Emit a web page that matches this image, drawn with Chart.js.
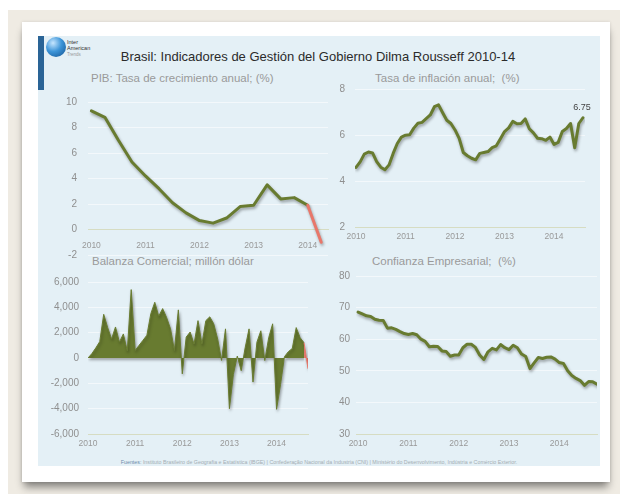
<!DOCTYPE html>
<html>
<head>
<meta charset="utf-8">
<script src="https://cdn.jsdelivr.net/npm/chart.js@4.4.1/dist/chart.umd.min.js"></script>
<style>
  body { margin: 0; width: 620px; height: 494px; background: #fff; position: relative; overflow: hidden;
         font-family: "Liberation Sans", Arial, sans-serif; }
  .abs { position: absolute; }
  #bg { left: 8px; top: 10px; width: 612px; height: 484px; background: #efebe3; }
  #card { left: 22px; top: 22px; width: 588px; height: 460px; background: #fff;
          box-shadow: 0 7px 8px -2px rgba(0,0,0,0.45), 0 0 3px rgba(0,0,0,0.12); }
  #panel { left: 38px; top: 36px; width: 562px; height: 430px; background: #e4f0f6; }
  #bar { left: 38px; top: 36px; width: 6px; height: 54px; background: #2a6496; }
  #globe { left: 46px; top: 37px; width: 20px; height: 20px; border-radius: 50%;
           background: radial-gradient(circle at 35% 30%, #c6e6ff 0%, #3d95d8 45%, #11508f 100%); }
  #logoText { left: 67px; top: 39px; font-size: 5.5px; line-height: 6px; color: #333; }
  #logoText span { color: #999; font-size: 4.5px; }
  #title { left: 0; top: 49px; width: 636px; text-align: center; font-size: 13px; color: #2b2b2b; }
  .sub { font-size: 11.5px; color: #9a9a9a; white-space: pre; }
  canvas { position: absolute; }
  #footer { left: 38px; top: 459px; width: 562px; text-align: center; font-size: 5.3px; color: #a3adb3; white-space: nowrap; }
  #footer b { font-weight: normal; color: #6d8aa8; }
</style>
</head>
<body>
<div id="bg" class="abs"></div>
<div id="card" class="abs"></div>
<div id="panel" class="abs"></div>
<div id="bar" class="abs"></div>
<div id="globe" class="abs"></div>
<div id="logoText" class="abs">Inter<br>American<br><span>Trends</span></div>
<div id="title" class="abs">Brasil: Indicadores de Gestión del Gobierno Dilma Rousseff 2010-14</div>

<div class="abs sub" style="left:91px; top:72px;">PIB: Tasa de crecimiento anual; (%)</div>
<div class="abs sub" style="left:375px; top:72px;">Tasa de inflación anual;  (%)</div>
<div class="abs sub" style="left:92px; top:255px;">Balanza Comercial; millón dólar</div>
<div class="abs sub" style="left:372px; top:255px;">Confianza Empresarial;  (%)</div>

<canvas id="pibChart" width="300" height="187" style="left:40px; top:85px;"></canvas>
<canvas id="inflChart" width="295" height="175" style="left:305px; top:73px;"></canvas>
<canvas id="balChart" width="285" height="186" style="left:40px; top:267px;"></canvas>
<canvas id="confChart" width="300" height="190" style="left:305px; top:262px;"></canvas>

<div id="footer" class="abs"><b>Fuentes:</b> Instituto Brasileiro de Geografia e Estatística (IBGE) | Confederação Nacional da Industria (CNI) | Ministério do Desenvolvimento, Indústria e Comércio Exterior.</div>

<script>
const yearLabels = ['2010', '2011', '2012', '2013', '2014'];

// PIB, quarterly, 2010T1 - 2014T2
const pib = [9.3, 8.8, 7.0, 5.3, 4.2, 3.2, 2.1, 1.3, 0.7, 0.5, 0.9, 1.8, 1.9, 3.5, 2.4, 2.5, 1.9, -1.0];

// inflation, monthly, Jan 2010 - Aug 2014
const inflacion = [
  4.59, 4.83, 5.17, 5.26, 5.22, 4.84, 4.60, 4.49, 4.70, 5.20, 5.63, 5.91,
  5.99, 6.01, 6.30, 6.51, 6.55, 6.71, 6.87, 7.23, 7.31, 6.97, 6.64, 6.50,
  6.22, 5.85, 5.24, 5.10, 4.99, 4.92, 5.20, 5.24, 5.28, 5.45, 5.53, 5.84,
  6.15, 6.31, 6.59, 6.49, 6.50, 6.70, 6.27, 6.09, 5.86, 5.84, 5.77, 5.91,
  5.59, 5.68, 6.15, 6.28, 6.50, 5.45, 6.50, 6.75
];

// trade balance, monthly, Jan 2010 - Sep 2014
const balanza = [
  0, 350, 800, 1300, 3450, 2400, 1500, 2450, 1250, 1900, 550, 5400,
  600, 1000, 1400, 1800, 3500, 4400, 3300, 3900, 3200, 2300, 600, 3800,
  -1250, 1650, 2050, 1100, 2950, 1100, 2950, 3250, 2700, 1500, -190, 2300,
  -4000, -1300, 150, -1000, 800, 2300, -1900, 1250, 2150, -200, 1600, 2700,
  -4050, -2100, 100, 500, 750, 2400, 1600, 1200, -850
];

// business confidence, monthly, Jan 2010 - Oct 2014
const confianza = [
  68.6, 68.0, 67.4, 67.2, 66.3, 66.0, 65.9, 63.5, 63.6, 63.1, 62.4, 61.8,
  61.5, 61.8, 61.4, 60.0, 59.3, 57.6, 57.8, 57.7, 56.3, 56.1, 54.6, 55.0,
  55.0, 57.3, 58.4, 58.4, 57.4, 55.0, 53.6, 56.0, 57.1, 56.6, 58.3, 57.3,
  56.7, 58.1, 57.3, 55.3, 54.5, 50.7, 52.5, 54.2, 53.9, 54.3, 54.4, 53.7,
  52.6, 52.3, 50.0, 48.5, 47.6, 46.9, 45.4, 46.6, 46.5, 45.8
];

const GREEN = '#687b30';
const RED = '#e8776a';
const GRID = '#f3f8fb';
const AXIS = '#d6dcc2';
const FONT = '"Liberation Sans", Arial, sans-serif';

const lineShadow = {
  id: 'lineShadow',
  beforeDatasetsDraw(chart) {
    const ctx = chart.ctx;
    ctx.save();
    ctx.shadowColor = 'rgba(0,0,0,0.35)';
    ctx.shadowBlur = 3;
    ctx.shadowOffsetX = 1;
    ctx.shadowOffsetY = 2;
  },
  afterDatasetsDraw(chart) {
    chart.ctx.restore();
  }
};

const lastLabel = {
  id: 'lastLabel',
  afterDatasetsDraw(chart) {
    const pts = chart.getDatasetMeta(0).data;
    const p = pts[pts.length - 1];
    const ctx = chart.ctx;
    ctx.save();
    ctx.font = '9px ' + FONT;
    ctx.fillStyle = '#444';
    ctx.textAlign = 'center';
    ctx.textBaseline = 'bottom';
    ctx.fillText(inflacion[inflacion.length - 1].toFixed(2), p.x - 1, p.y - 6);
    ctx.restore();
  }
};

function toPoints(values) {
  return values.map((v, i) => ({ x: i, y: v }));
}

function buildChart(id, cfg) {
  const perYear = cfg.perYear;
  const xAxis = {
    type: 'linear',
    min: cfg.xMin,
    max: cfg.xMax,
    grid: { display: false, drawTicks: false },
    border: { display: true, color: AXIS, width: 1 },
    afterBuildTicks: s => { s.ticks = yearLabels.map((y, i) => ({ value: i * perYear })); },
    ticks: {
      color: '#999',
      font: { size: 8.5, family: FONT },
      padding: cfg.xPad,
      maxRotation: 0,
      autoSkip: false,
      callback: v => yearLabels[v / perYear]
    }
  };
  if (cfg.xAtZero) {
    xAxis.position = { y: 0 };
  } else {
    xAxis.afterFit = s => { s.height = cfg.xHeight; };
  }

  return new Chart(document.getElementById(id), {
    type: 'line',
    data: { datasets: [cfg.dataset] },
    options: {
      responsive: false,
      animation: false,
      layout: { padding: cfg.padding },
      plugins: { legend: { display: false }, tooltip: { enabled: false } },
      elements: { point: { radius: 0 } },
      scales: {
        x: xAxis,
        y: {
          min: cfg.yMin,
          max: cfg.yMax,
          afterFit: s => { s.width = cfg.yWidth; },
          grid: { color: GRID, lineWidth: 1, drawTicks: false },
          border: { display: false },
          ticks: {
            stepSize: cfg.yStep,
            color: '#8f8f8f',
            font: { size: 10, family: FONT },
            padding: cfg.yPad,
            callback: v => v.toLocaleString('en-US')
          }
        }
      }
    },
    plugins: cfg.plugins || [lineShadow]
  });
}

function lineDataset(values) {
  return {
    data: toPoints(values),
    borderColor: GREEN,
    borderWidth: 3,
    borderJoinStyle: 'round',
    borderCapStyle: 'round',
    tension: 0,
    fill: false
  };
}

const pibSet = lineDataset(pib);
pibSet.segment = { borderColor: c => c.p1DataIndex === pib.length - 1 ? RED : GREEN };

// the y tick padding also pads the chart area top/bottom, canvases are placed for that
buildChart('pibChart', {
  dataset: pibSet, perYear: 4, xMin: -0.25, xMax: 17.5, xAtZero: true, xPad: 11,
  yMin: -2, yMax: 10, yStep: 2, yWidth: 48, yPad: 11,
  padding: { left: 0, top: 12, right: 12, bottom: 10 }
});

buildChart('inflChart', {
  dataset: lineDataset(inflacion), perYear: 12, xMin: -0.25, xMax: 55.5, xHeight: 21, xPad: 5,
  yMin: 2, yMax: 8, yStep: 2, yWidth: 50, yPad: 10,
  padding: { left: 0, top: 11, right: 15, bottom: 0 },
  plugins: [lineShadow, lastLabel]
});

buildChart('balChart', {
  dataset: {
    data: toPoints(balanza),
    borderColor: GREEN,
    backgroundColor: GREEN,
    borderWidth: 1,
    tension: 0,
    fill: 'origin',
    segment: {
      borderColor: c => c.p1DataIndex === balanza.length - 1 ? RED : GREEN,
      backgroundColor: c => c.p1DataIndex === balanza.length - 1 ? RED : GREEN
    }
  },
  perYear: 12, xMin: 0, xMax: 56, xHeight: 19, xPad: 5,
  yMin: -6000, yMax: 6000, yStep: 2000, yWidth: 48, yPad: 9,
  padding: { left: 0, top: 14, right: 17, bottom: 0 }
});

buildChart('confChart', {
  dataset: lineDataset(confianza), perYear: 12, xMin: -0.5, xMax: 57, xHeight: 18, xPad: 5,
  yMin: 30, yMax: 80, yStep: 10, yWidth: 51, yPad: 6,
  padding: { left: 0, top: 14, right: 8, bottom: 0 }
});
</script>
</body>
</html>
